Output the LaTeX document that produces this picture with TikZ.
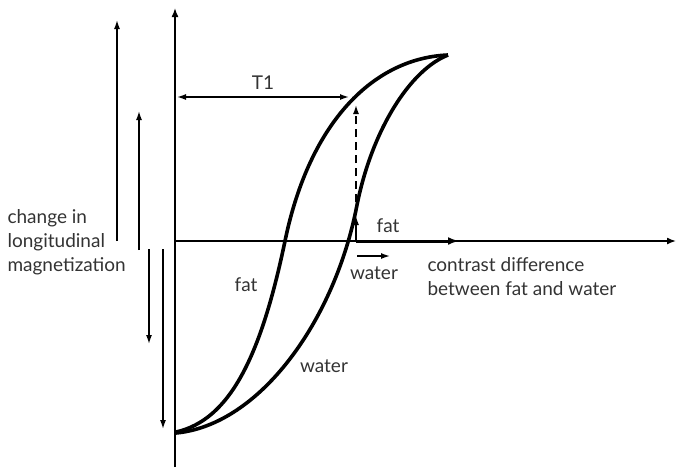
\documentclass[tikz,border=0pt]{standalone}
\usepackage{fontspec}
\setmainfont{Lato}
\usetikzlibrary{arrows.meta}
\tikzset{
  curve/.style={line width=3.6pt, line join=round},
  axis/.style={line width=1.5pt, -{Latex[length=9pt,width=7pt]}},
  change/.style={line width=1.5pt, -{Latex[length=9pt,width=6pt]}},
  lbl/.style={font=\fontsize{19}{24}\selectfont, text=black!80}
}
\begin{document}
\begin{tikzpicture}[x=1pt,y=-1pt]
  \useasboundingbox (0,0) rectangle (677,467);
  % axes
  \coordinate (o) at (175,241);
  \draw[axis] (175,467) -- (175,8);
  \draw[axis] (175,241) -- (676,241);
  % recovery curves
  \draw[curve] (176,432) .. controls (230,420) and (261,356) .. (285,241)
    .. controls (310,120) and (375,58) .. (448,55);
  \draw[curve] (176,433) .. controls (260,425) and (335,320) .. (357,205)
    .. controls (372,130) and (410,70) .. (448,55);
  \node[lbl] (fatlbl) at (246,285) {fat};
  \node[lbl] (waterlbl) at (324,366) {water};
  % T1
  \draw[change, {Latex[length=9pt,width=6pt]}-{Latex[length=9pt,width=6pt]}] (177,97) -- (349,97);
  \node[lbl] (t1) at (263,83) {T1};
  % magnetization changes
  \draw[change] (117,241) -- (117,20);
  \draw[change] (139,250) -- (139,111);
  \draw[change] (149,249) -- (149,344);
  \draw[change] (163,249) -- (163,429);
  \node[lbl, align=left, anchor=west] (mlbl) at (4,242) {change in\\longitudinal\\magnetization};
  % contrast at readout
  \coordinate (r) at (356,241);
  \draw[change, dash pattern=on 8pt off 5pt] (r) -- (356,105);
  \draw[change] (r) -- (356,216);
  \draw[line width=3pt, -{Latex[length=11pt,width=8pt]}] (r) -- (459,241);
  \draw[change] (357,256) -- (390,256);
  \node[lbl] (fat2) at (388,226) {fat};
  \node[lbl] (water2) at (374,273) {water};
  \node[lbl, align=left, anchor=west] (clbl) at (424,277) {contrast difference\\between fat and water};
\end{tikzpicture}
\end{document}
